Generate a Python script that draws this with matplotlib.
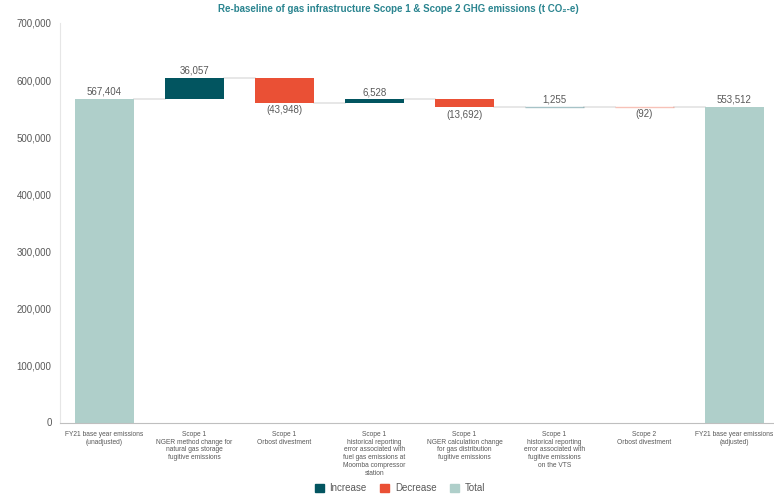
import numpy as np
import matplotlib
matplotlib.use("Agg")
import matplotlib.pyplot as plt
from matplotlib.patches import Patch

plt.rcParams['font.family'] = ['Liberation Sans', 'DejaVu Sans']

# --- Waterfall data (t CO2-e) ---
categories = [
    "FY21 base year emissions\n(unadjusted)",
    "Scope 1\nNGER method change for\nnatural gas storage\nfugitive emissions",
    "Scope 1\nOrbost divestment",
    "Scope 1\nhistorical reporting\nerror associated with\nfuel gas emissions at\nMoomba compressor\nstation",
    "Scope 1\nNGER calculation change\nfor gas distribution\nfugitive emissions",
    "Scope 1\nhistorical reporting\nerror associated with\nfugitive emissions\non the VTS",
    "Scope 2\nOrbost divestment",
    "FY21 base year emissions\n(adjusted)",
]
start_total = 567404
changes = [36057, -43948, 6528, -13692, 1255, -92]
end_total = 553512

c_inc = "#025560"
c_dec = "#EA5035"
c_tot = "#AFCFCA"
c_txt = "#595959"

fig = plt.figure(figsize=(7.74, 4.99), dpi=100)
ax = fig.add_axes([60 / 774, (499 - 422.5) / 499, 714 / 774, 399.5 / 499])

w = 0.655
x = np.arange(len(categories))

# opening total
ax.bar(x[0], start_total, width=w, color=c_tot)
ax.text(x[0], start_total + 4000, f"{start_total:,}", ha="center", va="bottom",
        fontsize=7, color=c_txt)

level = start_total
for i, d in enumerate(changes, start=1):
    new_level = level + d
    bottom = min(level, new_level)
    col = c_inc if d > 0 else c_dec
    if abs(d) < 3000:
        # very small steps would vanish, so give them a faint outline
        ax.bar(x[i], abs(d), bottom=bottom, width=w, color=col, edgecolor=col,
               linewidth=1.0, alpha=0.35, zorder=2)
    else:
        ax.bar(x[i], abs(d), bottom=bottom, width=w, color=col)
    # connector from previous bar
    ax.plot([x[i - 1] + w / 2, x[i] - w / 2], [level, level], color="#e3e3e3", lw=1.2, zorder=0)
    if d > 0:
        ax.text(x[i], new_level + 4000, f"{d:,}", ha="center", va="bottom",
                fontsize=7, color=c_txt)
    else:
        ax.text(x[i], new_level - 4000, f"({-d:,})", ha="center", va="top",
                fontsize=7, color=c_txt)
    level = new_level

# closing total
ax.plot([x[-2] + w / 2, x[-1] - w / 2], [level, level], color="#e3e3e3", lw=1.2, zorder=0)
ax.bar(x[-1], end_total, width=w, color=c_tot)
ax.text(x[-1], end_total + 4000, f"{end_total:,}", ha="center", va="bottom",
        fontsize=7, color=c_txt)

ax.set_ylim(0, 700000)
ax.set_xlim(-0.494, -0.494 + 714 / 90)
ax.set_yticks(np.arange(0, 700001, 100000))
ax.yaxis.set_major_formatter(matplotlib.ticker.FuncFormatter(lambda v, p: f"{int(v):,}"))
ax.tick_params(axis="y", length=0, labelsize=7, labelcolor=c_txt, pad=6)
ax.set_xticks(x)
ax.set_xticklabels(categories, fontsize=4.8, color=c_txt, linespacing=1.15)
ax.tick_params(axis="x", length=0, pad=6)

for s in ["top", "right"]:
    ax.spines[s].set_visible(False)
ax.spines["left"].set_color("#e6e6e6")
ax.spines["bottom"].set_color("#bfbfbf")

fig.text(398.5 / 774, 1 - 9 / 499, "Re-baseline of gas infrastructure Scope 1 & Scope 2 GHG emissions (t CO\u2082-e)",
         ha="center", va="center", fontsize=7, fontweight="bold", color="#2B8590")

handles = [Patch(color=c_inc, label="Increase"), Patch(color=c_dec, label="Decrease"),
           Patch(color=c_tot, label="Total")]
fig.legend(handles=handles, loc="center", bbox_to_anchor=(400 / 774, 1 - 488 / 499), ncol=3,
           frameon=False, fontsize=7, labelcolor=c_txt, handlelength=0.9, handleheight=0.9,
           handletextpad=0.6, columnspacing=1.4)

fig.savefig("out.png", dpi=100)
